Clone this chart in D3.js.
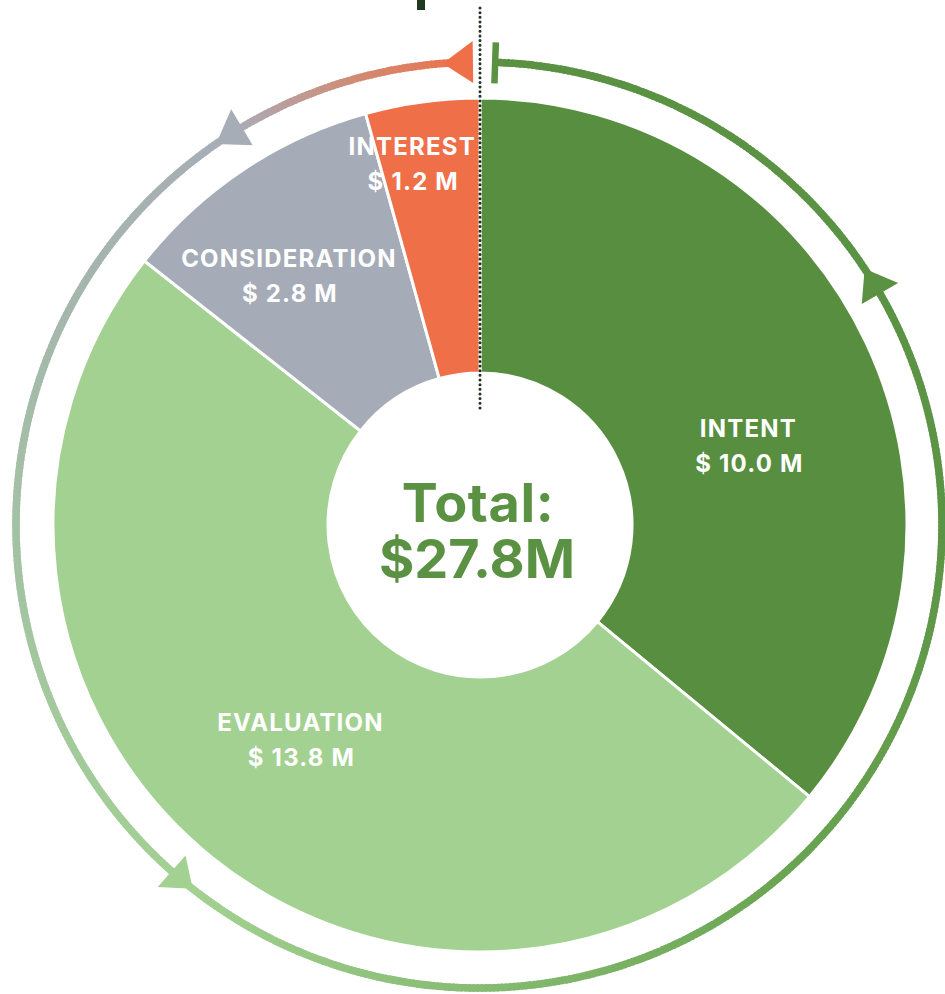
<!DOCTYPE html>
<html>
<head>
<meta charset="utf-8">
<script src="https://cdn.jsdelivr.net/npm/d3@7"></script>
<style>
  html, body { margin: 0; padding: 0; background: #ffffff; }
  svg { display: block; }
  text { font-family: "Inter", "Open Sans", "DejaVu Sans", sans-serif; font-weight: 700; }
</style>
</head>
<body>
<svg id="chart" width="945" height="994"></svg>
<script>
// ---------- data ----------
const categories = ["INTENT", "EVALUATION", "CONSIDERATION", "INTEREST"];
const values = [10.0, 13.8, 2.8, 1.2];
const sliceColors = ["#588e40", "#a3d192", "#a5acb7", "#ef6f49"];
const totalLabel = "Total:";

// ---------- layout ----------
const W = 945, H = 994;
const cx = 480, cy = 525;
const outerR = 427, innerR = 152;
const ringCx = 479, ringR = 463, ringW = 7.5;
const labelRadius = [279, 280, 315, 368];
const labelAngleShift = [8.65, 1.3, -3.9, -3.0]; // degrees
const ringStartDeg = 2, ringEndDeg = 359;
const gradStopDeg = [0, 90, 140, 180, 218, 262, 300, 328, 345, 360];
const gradStopColor = ["#5a9142", "#5c9445", "#6aa552", "#86bb72", "#a3d192", "#a3c4a2", "#a5b6ad", "#a8adb8", "#d28a72", "#ef6f48"];
const arrowTipDeg = [355.5, 325.4, 218.2, 56.4];
const arrowBaseDeg = [359.25, 329.2, 221.6, 60.0];
const arrowColor = ["#ef6f48", "#a6adb7", "#a3d192", "#5a9142"];

const rad = d => d * Math.PI / 180;
const polar = (r, deg) => [r * Math.sin(rad(deg)), -r * Math.cos(rad(deg))];

const svg = d3.select("#chart");
svg.append("rect").attr("width", W).attr("height", H).attr("fill", "#ffffff");

// ---------- outer gradient ring ----------
const ringG = svg.append("g").attr("transform", `translate(${ringCx},${cy})`);
const ringColor = d3.scaleLinear().domain(gradStopDeg).range(gradStopColor).interpolate(d3.interpolateRgb);
const ringArc = d3.arc().innerRadius(ringR - ringW / 2).outerRadius(ringR + ringW / 2);
const segs = d3.range(ringStartDeg, ringEndDeg, 0.5);
ringG.selectAll("path.seg").data(segs).join("path")
  .attr("class", "seg")
  .attr("d", a => ringArc({ startAngle: rad(a), endAngle: rad(Math.min(a + 0.8, ringEndDeg)) }))
  .attr("fill", a => ringColor(a + 0.25));

// tee at ring start
const teeIn = polar(ringR - 21, ringStartDeg), teeOut = polar(ringR + 20, ringStartDeg);
ringG.append("line")
  .attr("x1", teeIn[0]).attr("y1", teeIn[1]).attr("x2", teeOut[0]).attr("y2", teeOut[1])
  .attr("stroke", "#5a9142").attr("stroke-width", 6.5);

// arrowheads
ringG.selectAll("path.arrow").data(arrowTipDeg).join("path")
  .attr("class", "arrow")
  .attr("d", (t, i) => {
    const b = arrowBaseDeg[i];
    const tip = polar(ringR, t), b1 = polar(ringR - 21, b), b2 = polar(ringR + 21, b);
    return `M${tip[0]},${tip[1]}L${b1[0]},${b1[1]}L${b2[0]},${b2[1]}Z`;
  })
  .attr("fill", (t, i) => arrowColor[i]);

// ---------- donut ----------
const g = svg.append("g").attr("transform", `translate(${cx},${cy})`);
const pie = d3.pie().sort(null).value(d => d)(values);
const arc = d3.arc().innerRadius(innerR).outerRadius(outerR);
g.selectAll("path.slice").data(pie).join("path")
  .attr("class", "slice")
  .attr("d", arc)
  .attr("fill", (d, i) => sliceColors[i])
  .attr("stroke", "#ffffff").attr("stroke-width", 3).attr("stroke-linejoin", "miter");

// slice labels
pie.forEach((d, i) => {
  const mid = (d.startAngle + d.endAngle) / 2 * 180 / Math.PI + labelAngleShift[i];
  const [x, y] = polar(labelRadius[i], mid);
  const t = g.append("text").attr("text-anchor", "middle").attr("fill", "#ffffff")
    .attr("font-size", 24).attr("letter-spacing", 1.2);
  t.append("tspan").attr("x", x + 1).attr("y", y - 8.5).text(categories[i]);
  t.append("tspan").attr("x", x + 2).attr("y", y + 26.5).text(`$ ${values[i].toFixed(1)} M`);
});

// center total (single text element, two lines)
const total = d3.sum(values);
const tt = g.append("text").attr("text-anchor", "middle")
  .attr("fill", "#5a9142").attr("font-size", 54).attr("font-weight", 800);
tt.append("tspan").attr("x", -2).attr("y", -3).attr("letter-spacing", 0.6).text(totalLabel);
tt.append("tspan").attr("x", -3).attr("y", 53).text(`$${total.toFixed(1)}M`);

// ---------- dotted divider & top mark ----------
svg.append("line")
  .attr("x1", 480).attr("x2", 480).attr("y1", 8).attr("y2", 410)
  .attr("stroke", "#1d3320").attr("stroke-width", 3)
  .attr("stroke-linecap", "round").attr("stroke-dasharray", "0 4.65");
svg.append("rect").attr("x", 417).attr("y", 0).attr("width", 8).attr("height", 10).attr("fill", "#1f3a1f");
</script>
</body>
</html>
